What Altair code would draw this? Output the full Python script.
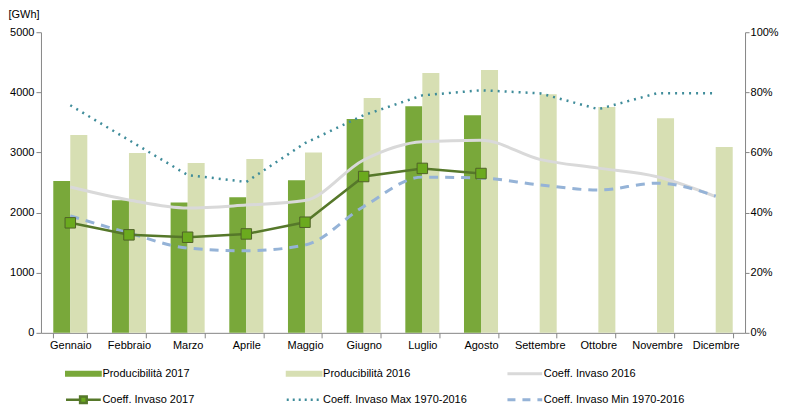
import altair as alt
import pandas as pd

months = ["Gennaio", "Febbraio", "Marzo", "Aprile", "Maggio", "Giugno",
          "Luglio", "Agosto", "Settembre", "Ottobre", "Novembre", "Dicembre"]

prod_2017 = [2525, 2205, 2170, 2255, 2540, 3555, 3770, 3620]
prod_2016 = [3290, 2990, 2825, 2890, 3000, 3905, 4320, 4370, 3970, 3755, 3570, 3090]

coeff_2016 = [0.485, 0.442, 0.415, 0.425, 0.440, 0.575, 0.636, 0.641, 0.577, 0.548, 0.519, 0.453]
coeff_2017 = [0.366, 0.326, 0.318, 0.329, 0.368, 0.520, 0.547, 0.530]
coeff_max = [0.757, 0.641, 0.525, 0.502, 0.631, 0.724, 0.790, 0.807, 0.797, 0.744, 0.797, 0.797]
coeff_min = [0.389, 0.332, 0.282, 0.273, 0.292, 0.420, 0.518, 0.515, 0.492, 0.475, 0.498, 0.455]

series_names = ["Producibilità 2017", "Producibilità 2016", "Coeff. Invaso 2016",
                "Coeff. Invaso 2017", "Coeff. Invaso Max 1970-2016", "Coeff. Invaso Min 1970-2016"]
series_colors = ["#79A83A", "#D7DFB3", "#D9D9D9", "#56782A", "#3F8C9A", "#95B3D7"]

# legend swatch styles (one per series)
swatch_fill = ["#79A83A", "#D7DFB3", "transparent", "#6BAA1E", "transparent", "transparent"]
swatch_shape = [
    "M-2.9,-0.33H2.9V0.33H-2.9Z",
    "M-2.9,-0.33H2.9V0.33H-2.9Z",
    "M-2.9,0H2.9",
    "M-2.9,0H-0.55M0.55,0H2.9M-0.55,-0.55H0.55V0.55H-0.55Z",
    "M-2.9,0H2.9",
    "M-2.9,0H2.9",
]
swatch_dash = [[1, 0], [1, 0], [1, 0], [1, 0], [2, 4], [8, 7]]
swatch_width = [2, 2, 3, 2.5, 2.5, 3]

# long tables
bar_rows = []
for m, v in zip(months, prod_2017):
    bar_rows.append({"month": m, "series": series_names[0], "value": v})
for m, v in zip(months, prod_2016):
    bar_rows.append({"month": m, "series": series_names[1], "value": v})
df_bars = pd.DataFrame(bar_rows)

line_rows = []
for name, vals in [(series_names[2], coeff_2016), (series_names[3], coeff_2017),
                   (series_names[4], coeff_max), (series_names[5], coeff_min)]:
    for m, v in zip(months, vals):
        line_rows.append({"month": m, "series": name, "value": v})
df_lines = pd.DataFrame(line_rows)

df_legend = pd.DataFrame({
    "series": series_names,
    "col": [i % 3 for i in range(len(series_names))],
    "row": [i // 3 for i in range(len(series_names))],
})

FONT = "Liberation Sans"
AXIS_GREY = "#868686"

x_enc = alt.X(
    "month:N", sort=months,
    scale=alt.Scale(domain=months, paddingInner=0.42, paddingOuter=0.21),
    axis=alt.Axis(title=None, labelAngle=0, tickBand="extent", labelPadding=2, tickSize=5),
)

color_scale = alt.Scale(domain=series_names, range=series_colors)
color_enc = alt.Color("series:N", scale=color_scale, legend=None)

y_left = alt.Y(
    "value:Q",
    scale=alt.Scale(domain=[0, 5000]),
    axis=alt.Axis(values=[0, 1000, 2000, 3000, 4000, 5000], format="d", tickSize=5, labelPadding=2,
                  title="[GWh]", titleAngle=0, titleAlign="left", titleBaseline="top",
                  titleX=-33, titleY=-24,
                  titleFont=FONT, titleFontSize=11, titleFontWeight="normal", titleColor="#000000"),
)

y_right_axis = alt.Axis(orient="right", values=[0, 0.2, 0.4, 0.6, 0.8, 1.0], format=".0%",
                        tickSize=4, labelPadding=1, title=None)
y_right = alt.Y("value:Q", scale=alt.Scale(domain=[0, 1]), axis=y_right_axis)

bars = alt.Chart(df_bars).mark_bar().encode(
    x=x_enc,
    xOffset=alt.XOffset("series:N", sort=series_names[:2],
                        scale=alt.Scale(domain=series_names[:2], paddingInner=0, paddingOuter=0)),
    y=y_left,
    color=color_enc,
)


def line_layer(name, **kw):
    return alt.Chart(df_lines).transform_filter(alt.datum.series == name).mark_line(**kw).encode(
        x=x_enc, y=y_right, color=color_enc
    )


grey = line_layer(series_names[2], strokeWidth=3, interpolate="monotone")
cmin = line_layer(series_names[5], strokeWidth=3, strokeDash=[9, 7], interpolate="monotone")
cmax = line_layer(series_names[4], strokeWidth=2.5, strokeDash=[2, 5])
c2017 = line_layer(series_names[3], strokeWidth=2.5,
                   point=alt.OverlayMarkDef(shape="square", size=110, filled=True,
                                            fill="#6BAA1E", stroke="#4F6228", strokeWidth=1, opacity=1))

lines = alt.layer(grey, cmin, cmax, c2017)

main = alt.layer(bars, lines).resolve_scale(y="independent").properties(width=705, height=301)

# legend panel drawn from the legend table
lx = alt.X("col:O", scale=alt.Scale(type="point", padding=0.1923), axis=None)
ly = alt.Y("row:O", scale=alt.Scale(type="point", padding=0.5), axis=None)

swatches = alt.Chart(df_legend).mark_point(filled=True, opacity=1, size=144).encode(
    x=lx, y=ly,
    fill=alt.Fill("series:N", scale=alt.Scale(domain=series_names, range=swatch_fill), legend=None),
    stroke=alt.Stroke("series:N", scale=alt.Scale(domain=series_names, range=series_colors), legend=None),
    shape=alt.Shape("series:N", scale=alt.Scale(domain=series_names, range=swatch_shape), legend=None),
    strokeDash=alt.StrokeDash("series:N", scale=alt.Scale(domain=series_names, range=swatch_dash), legend=None),
    strokeWidth=alt.StrokeWidth("series:N", scale=alt.Scale(type="ordinal", domain=series_names, range=swatch_width), legend=None),
)
labels = alt.Chart(df_legend).mark_text(
    align="left", baseline="middle", dx=19, font=FONT, fontSize=11, color="#000000"
).encode(x=lx, y=ly, text="series:N")

legend_panel = alt.layer(swatches, labels).properties(width=527, height=52)

chart = alt.vconcat(main, legend_panel, spacing=10).properties(
    padding={"left": 0, "top": 0, "right": 0, "bottom": 0},
    background="#ffffff",
).configure_view(stroke=None).configure_axis(
    grid=False, domainColor=AXIS_GREY, tickColor=AXIS_GREY,
    labelFont=FONT, labelFontSize=11, labelColor="#000000",
)

chart.save("out.html", embed_options={"renderer": "svg", "actions": False})
